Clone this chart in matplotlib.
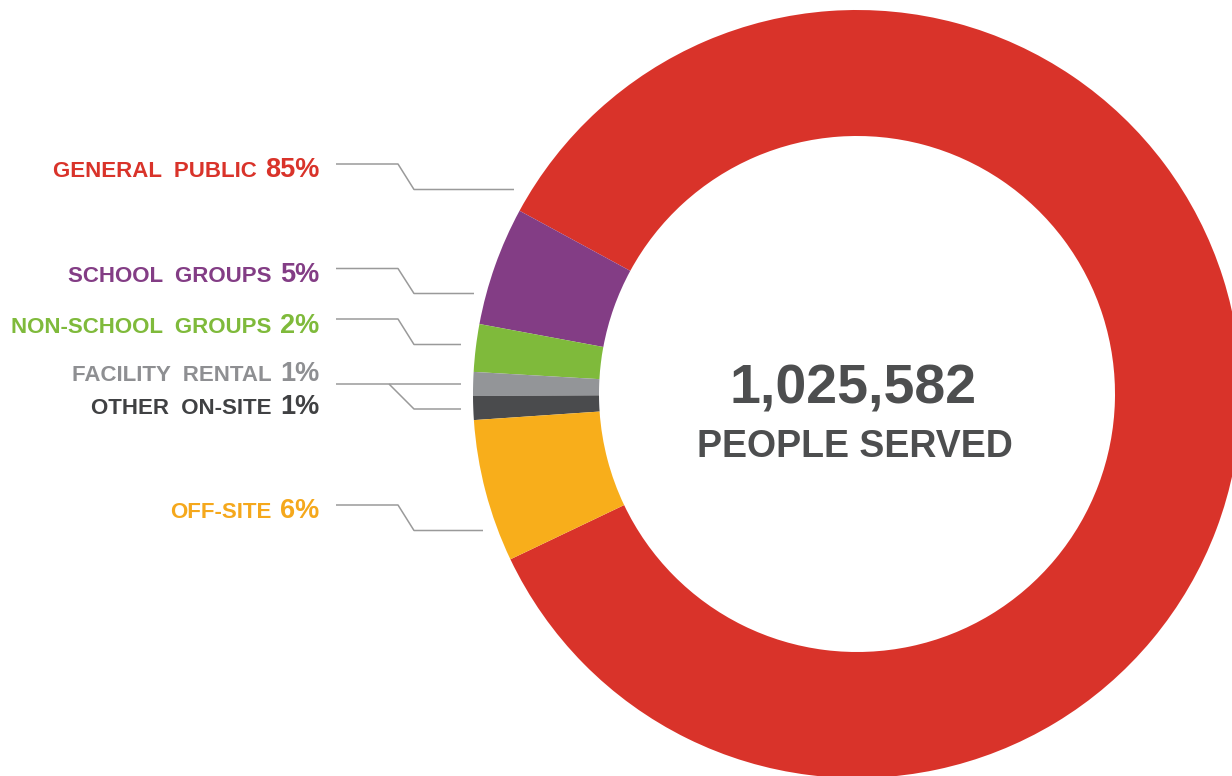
import matplotlib
matplotlib.use("Agg")
import matplotlib.pyplot as plt

# ---- data ----
categories = ["GENERAL PUBLIC", "SCHOOL GROUPS", "NON-SCHOOL GROUPS",
              "FACILITY RENTAL", "OTHER ON-SITE", "OFF-SITE"]
shares = [85, 5, 2, 1, 1, 6]
total_served = "1,025,582"
center_caption = "PEOPLE SERVED"

wedge_colors = ["#D9332A", "#833D85", "#7FBA3B", "#939598", "#4A4B4D", "#F8AE1B"]
text_colors = ["#D9332A", "#833D85", "#7FBA3B", "#8E8F92", "#404143", "#F5A81C"]

W, H = 1232, 776
fig = plt.figure(figsize=(W / 100, H / 100), dpi=100)
ax = fig.add_axes([0, 0, 1, 1])

def Y(py):
    return H - py

cx, cy, r_out, r_in = 857, Y(394), 384, 258
ax.pie(shares, colors=wedge_colors, startangle=205.5, counterclock=True,
       center=(cx, cy), radius=r_out,
       wedgeprops=dict(width=r_out - r_in, linewidth=0))
ax.set_xlim(0, W)
ax.set_ylim(0, H)
ax.set_aspect("equal")
ax.axis("off")

font = "Liberation Sans"
ax.text(cx - 4, Y(389), total_served, ha="center", va="center", fontsize=40,
        fontweight="bold", color="#4D4E4F", family=font)
ax.text(cx - 2, Y(447), center_caption, ha="center", va="center", fontsize=27,
        fontweight="bold", color="#4D4E4F", family=font)

# label layout (pixel positions)
baselines = [177, 281.5, 333, 381, 414, 518]
lines = [
    [(336, 164), (398, 164), (414, 189.5), (514, 189.5)],
    [(336, 268.5), (398, 268.5), (414, 293.5), (474, 293.5)],
    [(336, 319), (398, 319), (414, 344.5), (461, 344.5)],
    [(336, 384), (461, 384)],
    [(389, 384), (414, 409), (461, 409)],
    [(336, 505), (398, 505), (414, 530.5), (483, 530.5)],
]

fig.canvas.draw()
renderer = fig.canvas.get_renderer()
inv = ax.transData.inverted()
right_x = 319
for name, val, col, b in zip(categories, shares, text_colors, baselines):
    t = ax.text(right_x, Y(b), f"{val}%", ha="right", va="baseline",
                fontsize=19.5, fontweight="bold", color=col, family=font)
    bb = t.get_window_extent(renderer)
    x0 = inv.transform((bb.x0, bb.y0))[0]
    ax.text(x0 - 8, Y(b), name.replace(" ", "  "), ha="right", va="baseline",
            fontsize=16, fontweight="bold", color=col, family=font)

for pts in lines:
    xs = [p[0] for p in pts]
    ys = [Y(p[1]) for p in pts]
    ax.plot(xs, ys, color="#9A9A9A", linewidth=1.1, solid_capstyle="butt")

fig.savefig("out.png", dpi=100)
